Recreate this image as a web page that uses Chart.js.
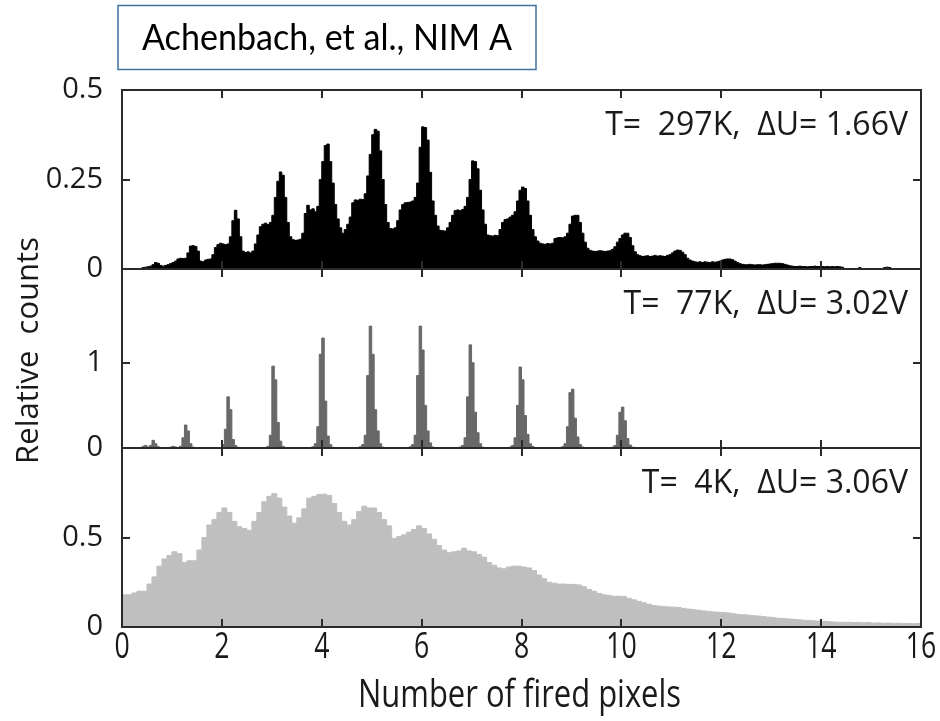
<!DOCTYPE html>
<html>
<head>
<meta charset="utf-8">
<script src="https://cdn.jsdelivr.net/npm/chart.js@4/dist/chart.umd.min.js"></script>
<style>
  html, body { margin: 0; padding: 0; background: #fff; }
  #wrap { position: relative; width: 940px; height: 721px; }
  canvas { display: block; }
</style>
</head>
<body>
<div id="wrap"><canvas id="c" width="940" height="721"></canvas></div>
<script>
// ---- axis ticks and panel captions ----
const xTicks = [0, 2, 4, 6, 8, 10, 12, 14, 16];
const yTicksTop = [0, 0.25, 0.5];
const yTicksMid = [0, 1];
const yTicksBot = [0, 0.5];
const panelCaptions = ['T=  297K,  \u0394U= 1.66V', 'T=  77K,  \u0394U= 3.02V', 'T=  4K,  \u0394U= 3.06V'];
const xTitle = 'Number of fired pixels';
const yTitle = 'Relative  counts';
const sourceNote = 'Achenbach, et al., NIM A';

// ---- histogram bin widths (in fired pixels) ----
const binWidth297K = 0.05;
const binWidth77K = 0.05;
const binWidth4K = 0.1;

// T = 297 K, one row per unit of fired pixels (20 bins each)
const counts297K = [
  0,0,0,0,0,0,0,0,0.004,0.005,0.006,0.008,0.012,0.018,0.016,0.01,0.008,0.01,0.012,0.015,
  0.018,0.022,0.028,0.03,0.029,0.03,0.045,0.064,0.065,0.063,0.05,0.022,0.02,0.025,0.027,0.028,0.04,0.06,0.068,0.072,
  0.07,0.068,0.07,0.09,0.135,0.164,0.14,0.09,0.05,0.046,0.048,0.045,0.05,0.07,0.095,0.118,0.125,0.128,0.124,0.13,
  0.15,0.2,0.245,0.271,0.262,0.2,0.13,0.09,0.082,0.08,0.081,0.083,0.1,0.155,0.178,0.165,0.168,0.16,0.175,0.25,
  0.3,0.345,0.349,0.3,0.24,0.18,0.14,0.115,0.1,0.11,0.125,0.145,0.185,0.193,0.192,0.195,0.194,0.21,0.26,0.32,
  0.375,0.39,0.385,0.33,0.25,0.18,0.13,0.113,0.112,0.115,0.135,0.165,0.18,0.185,0.186,0.187,0.19,0.2,0.24,0.34,
  0.397,0.395,0.36,0.27,0.19,0.15,0.12,0.108,0.107,0.106,0.115,0.13,0.15,0.163,0.165,0.163,0.166,0.175,0.2,0.25,
  0.302,0.3,0.28,0.22,0.165,0.125,0.095,0.093,0.092,0.094,0.093,0.11,0.13,0.138,0.14,0.145,0.15,0.16,0.19,0.22,
  0.229,0.225,0.19,0.15,0.11,0.09,0.078,0.072,0.07,0.069,0.071,0.07,0.072,0.085,0.087,0.088,0.087,0.09,0.1,0.125,
  0.148,0.15,0.15,0.13,0.1,0.075,0.058,0.052,0.05,0.049,0.05,0.051,0.05,0.049,0.05,0.051,0.055,0.062,0.075,0.085,
  0.095,0.1,0.1,0.088,0.065,0.048,0.04,0.037,0.035,0.036,0.037,0.035,0.036,0.038,0.036,0.037,0.036,0.035,0.038,0.04,
  0.045,0.05,0.053,0.052,0.047,0.04,0.03,0.025,0.022,0.02,0.019,0.02,0.018,0.02,0.019,0.018,0.02,0.019,0.02,0.022,
  0.025,0.027,0.028,0.028,0.026,0.022,0.018,0.015,0.013,0.012,0.012,0.013,0.012,0.011,0.012,0.012,0.011,0.012,0.013,0.014,
  0.015,0.016,0.016,0.016,0.015,0.013,0.011,0.009,0.008,0.007,0.007,0.008,0.007,0.007,0.006,0.007,0.007,0.008,0.007,0.007,
  0.007,0.006,0.007,0.006,0.007,0.006,0.007,0.006,0.005,0,0,0,0,0,0,0.004,0,0,0,0,
  0,0,0,0,0,0.004,0.005,0.004,0,0,0,0,0,0,0,0,0,0,0,0
];

// T = 77 K, one row per unit of fired pixels (20 bins each)
const counts77K = [
  0,0,0,0,0,0,0,0.005,0.02,0.03,0.012,0.03,0.09,0.05,0.015,0.006,0.005,0.005,0.006,0.01,
  0.02,0.012,0.005,0.02,0.12,0.27,0.2,0.05,0.01,0.005,0.004,0.005,0.004,0.005,0.004,0.005,0.004,0.005,0.005,0.006,
  0.04,0.22,0.6,0.45,0.1,0.03,0.008,0.005,0.004,0.005,0.004,0.005,0.004,0.005,0.004,0.005,0.005,0.006,0.02,0.15,
  0.96,0.8,0.3,0.08,0.02,0.006,0.005,0.004,0.005,0.004,0.005,0.004,0.005,0.004,0.005,0.006,0.015,0.05,0.25,1.1,
  1.29,0.55,0.14,0.04,0.008,0.005,0.004,0.005,0.004,0.005,0.004,0.005,0.004,0.005,0.006,0.015,0.04,0.15,0.85,1.43,
  1.1,0.45,0.2,0.05,0.01,0.005,0.004,0.005,0.004,0.005,0.004,0.005,0.004,0.005,0.006,0.015,0.04,0.15,0.85,1.43,
  1.15,0.5,0.2,0.06,0.012,0.005,0.004,0.005,0.004,0.005,0.004,0.005,0.004,0.005,0.006,0.012,0.03,0.12,0.6,1.21,
  1.0,0.42,0.18,0.05,0.01,0.005,0.004,0.005,0.004,0.005,0.004,0.005,0.004,0.005,0.006,0.012,0.03,0.12,0.5,0.95,
  0.8,0.38,0.16,0.05,0.02,0.006,0.005,0.004,0.005,0.004,0.005,0.004,0.005,0.004,0.005,0.006,0.015,0.05,0.25,0.65,
  0.69,0.35,0.13,0.04,0.012,0.005,0.004,0.005,0.004,0.005,0.004,0.005,0.004,0.005,0.004,0.005,0.01,0.03,0.15,0.42,
  0.48,0.32,0.11,0.035,0.01,0.004,0,0,0,0,0,0,0,0,0,0,0,0,0,0
];

// T = 4 K, one row per two units of fired pixels (20 bins each)
const counts4K = [
  0.18,0.18,0.19,0.2,0.2,0.24,0.28,0.34,0.38,0.4,0.42,0.41,0.36,0.37,0.37,0.43,0.5,0.57,0.6,0.64,
  0.665,0.64,0.59,0.56,0.55,0.54,0.59,0.64,0.7,0.73,0.745,0.72,0.67,0.62,0.58,0.61,0.66,0.72,0.73,0.74,
  0.742,0.735,0.69,0.64,0.59,0.57,0.6,0.645,0.675,0.665,0.665,0.64,0.6,0.565,0.495,0.505,0.515,0.53,0.545,0.565,
  0.55,0.52,0.49,0.455,0.43,0.415,0.42,0.425,0.44,0.425,0.42,0.405,0.39,0.36,0.345,0.33,0.325,0.335,0.34,0.34,
  0.335,0.33,0.315,0.29,0.27,0.25,0.245,0.24,0.24,0.238,0.238,0.235,0.225,0.21,0.2,0.188,0.18,0.176,0.172,0.172,
  0.17,0.16,0.152,0.143,0.135,0.127,0.12,0.117,0.114,0.112,0.111,0.109,0.104,0.1,0.097,0.094,0.09,0.087,0.084,0.082,
  0.081,0.078,0.074,0.07,0.068,0.066,0.063,0.061,0.058,0.055,0.052,0.049,0.047,0.045,0.043,0.041,0.038,0.037,0.035,0.033,
  0.032,0.03,0.028,0.027,0.026,0.027,0.025,0.026,0.024,0.025,0.022,0.023,0.021,0.022,0.02,0.021,0.019,0.02,0.018,0.02
];

// Turn bin contents into left-edge points for a stepped, filled line.
function histogramPoints(values, width) {
  const pts = values.map((v, i) => ({ x: +(i * width).toFixed(4), y: v }));
  pts.push({ x: +(values.length * width).toFixed(4), y: values[values.length - 1] });
  return pts;
}

const INK = '#1a1a1a';
const sansFont = '"Open Sans", "DejaVu Sans", sans-serif';

const panels = [
  { id: 'yTop', ticks: yTicksTop, caption: panelCaptions[0] },
  { id: 'yMid', ticks: yTicksMid, caption: panelCaptions[1] },
  { id: 'yBot', ticks: yTicksBot, caption: panelCaptions[2] }
];

// Draw text squeezed horizontally (condensed face look).
function condensedText(ctx, text, x, y, sx) {
  ctx.save();
  ctx.translate(x, y);
  ctx.scale(sx, 1);
  ctx.fillText(text, 0, 0);
  ctx.restore();
}

// Frames, inward tick marks, captions, axis texts and the source note box.
const panelFrame = {
  id: 'panelFrame',
  afterDatasetsDraw(chart) {
    const { ctx } = chart;
    const xs = chart.scales.x;
    const L = xs.left, R = xs.right;
    const tickLen = 8;
    ctx.save();
    ctx.strokeStyle = '#2a2a2a';
    ctx.lineWidth = 2;
    panels.forEach(p => {
      const s = chart.scales[p.id];
      ctx.strokeRect(L, s.top, R - L, s.bottom - s.top);
      ctx.beginPath();
      xTicks.filter(v => v > xs.min && v < xs.max).forEach(v => {
        const px = Math.round(xs.getPixelForValue(v));
        ctx.moveTo(px, s.top); ctx.lineTo(px, s.top + tickLen);
        ctx.moveTo(px, s.bottom); ctx.lineTo(px, s.bottom - tickLen);
      });
      p.ticks.filter(v => v > s.min && v < s.max).forEach(v => {
        const py = Math.round(s.getPixelForValue(v));
        ctx.moveTo(L, py); ctx.lineTo(L + tickLen, py);
        ctx.moveTo(R, py); ctx.lineTo(R - tickLen, py);
      });
      ctx.stroke();

      ctx.fillStyle = INK;
      ctx.font = '32px ' + sansFont;
      ctx.textAlign = 'right';
      ctx.textBaseline = 'alphabetic';
      ctx.fillText(p.caption, R - 13, s.top + 45);
    });

    // x tick labels and x title, in a narrow face
    ctx.fillStyle = INK;
    ctx.textAlign = 'center';
    ctx.textBaseline = 'middle';
    ctx.font = '36px ' + sansFont;
    xs.ticks.forEach(t => {
      condensedText(ctx, String(t.value), xs.getPixelForValue(t.value), xs.top + 21, 0.74);
    });
    ctx.font = '38px ' + sansFont;
    const tw = ctx.measureText(xTitle).width;
    condensedText(ctx, xTitle, (L + R) / 2 - 2, xs.top + 69, 323 / tw);

    // y title, rotated
    const yTop = chart.scales.yTop, yBot = chart.scales.yBot;
    ctx.save();
    ctx.translate(29, (yTop.top + yBot.bottom) / 2 - 8);
    ctx.rotate(-Math.PI / 2);
    ctx.font = '31px ' + sansFont;
    ctx.fillText(yTitle, 0, 0);
    ctx.restore();

    // source note box above the plot
    const bx = 118, by = 5.5, bw = 418, bh = 64;
    ctx.strokeStyle = '#41719c';
    ctx.lineWidth = 1.5;
    ctx.strokeRect(bx, by, bw, bh);
    ctx.font = '37px Lato, "Open Sans", sans-serif';
    const nw = ctx.measureText(sourceNote).width;
    ctx.fillStyle = '#000';
    ctx.textAlign = 'center';
    ctx.textBaseline = 'middle';
    condensedText(ctx, sourceNote, bx + bw / 2, by + bh / 2 + 1, 370 / nw);
    ctx.restore();
  }
};

function yScale(min, max, ticks) {
  return {
    type: 'linear',
    position: 'left',
    stack: 'panels',
    stackWeight: 1,
    min: min,
    max: max,
    grid: { display: false },
    border: { display: false },
    afterBuildTicks: s => { s.ticks = ticks.map(v => ({ value: v })); },
    afterFit: s => { s.width = 122; },
    ticks: {
      autoSkip: false,
      padding: 11,
      color: INK,
      font: { family: sansFont, size: 29 },
      callback: v => String(v)
    }
  };
}

new Chart(document.getElementById('c'), {
  type: 'line',
  data: {
    datasets: [
      { label: '4K', data: histogramPoints(counts4K, binWidth4K), yAxisID: 'yBot',
        backgroundColor: '#bfbfbf', borderColor: '#bfbfbf' },
      { label: '77K', data: histogramPoints(counts77K, binWidth77K), yAxisID: 'yMid',
        backgroundColor: '#686868', borderColor: '#686868' },
      { label: '297K', data: histogramPoints(counts297K, binWidth297K), yAxisID: 'yTop',
        backgroundColor: '#000000', borderColor: '#000000' }
    ]
  },
  options: {
    responsive: false,
    animation: false,
    events: [],
    layout: { padding: { top: 90, right: 19, bottom: 0, left: 0 } },
    elements: {
      line: { stepped: 'before', borderWidth: 1, fill: 'origin', tension: 0 },
      point: { radius: 0, hoverRadius: 0 }
    },
    plugins: { legend: { display: false }, tooltip: { enabled: false }, title: { display: false } },
    scales: {
      x: {
        type: 'linear',
        position: 'bottom',
        min: 0,
        max: 16,
        grid: { display: false },
        border: { display: false },
        afterBuildTicks: s => { s.ticks = xTicks.map(v => ({ value: v })); },
        afterFit: s => { s.height = 94; },
        ticks: { display: false, autoSkip: false }
      },
      yBot: yScale(0, 1, yTicksBot),
      yMid: yScale(0, 2.1, yTicksMid),
      yTop: yScale(0, 0.5, yTicksTop)
    }
  },
  plugins: [panelFrame]
});
</script>
</body>
</html>
